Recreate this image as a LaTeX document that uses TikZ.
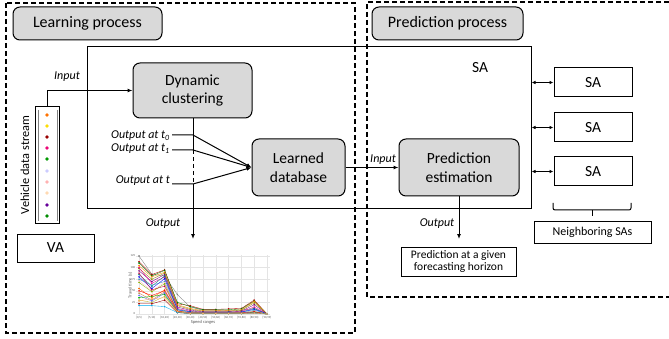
\documentclass[tikz,border=0pt]{standalone}
\usepackage{fontspec}
\setmainfont{Carlito}
\usetikzlibrary{arrows.meta,decorations.pathreplacing}
\definecolor{boxgray}{RGB}{217,217,217}
\definecolor{gridc}{RGB}{228,228,228}
\newcommand\chartline[2]{%
  \gdef\ptlist{}%
  \foreach \v [count=\i from 0] in {#2}{\xdef\ptlist{\ptlist(\i,\v)}}%
  \edef\tmp{\noexpand\draw[#1,chartln] plot coordinates {\ptlist};}\tmp}
\begin{document}
\begin{tikzpicture}[x=1pt,y=-1pt,
  procbox/.style={draw, line width=1pt, rounded corners=7pt, fill=boxgray, align=center, inner sep=0pt, font=\fontsize{15.5}{18.5}\selectfont},
  hdrbox/.style={procbox, font=\fontsize{16}{19}\selectfont},
  plainbox/.style={draw, line width=1pt, fill=white, inner sep=0pt, align=center},
  lbl/.style={font=\fontsize{12}{14}\selectfont\itshape, inner sep=1pt},
  dashbox/.style={dash pattern=on 5pt off 3pt, line width=1.1pt},
  conn/.style={line width=1pt},
  arr/.style={conn, -{Latex[length=5pt,width=4pt]}},
  darr/.style={conn, {Latex[length=4pt,width=3.5pt]}-{Latex[length=4pt,width=3.5pt]}},
  chartln/.style={line width=0.35pt, mark=*, mark size=0.55pt},
  tinyt/.style={font=\fontsize{3}{3.5}\selectfont, text=gray!70!black, inner sep=0.5pt}
]
\useasboundingbox (0,0) rectangle (669,339);
\fill[white] (0,0) rectangle (669,339);

% dashed process regions
\draw[dashbox] (6,3) rectangle (355,333);
\draw[dashbox] (669,2) -- (367,2) -- (367,297) -- (669,297);

% headers
\node[hdrbox, minimum width=149pt, minimum height=33pt] (learnhdr) at (87.5,23.5) {Learning process};
\node[hdrbox, minimum width=151pt, minimum height=33pt] (predhdr) at (447.5,23.5) {Prediction process};

% SA big box
\node[draw, line width=1pt, minimum width=444pt, minimum height=162pt, inner sep=0pt] (sabox) at (309,128) {};
\node[font=\fontsize{15.5}{18.5}\selectfont] (salbl) at (480,68) {SA};

% process boxes
\node[procbox, minimum width=119pt, minimum height=55pt] (dyn) at (192.5,90.5) {Dynamic\\clustering};
\node[procbox, minimum width=93pt, minimum height=57pt] (ldb) at (298.5,167.5) {Learned\\database};
\node[procbox, minimum width=120pt, minimum height=57pt] (pest) at (459,167.5) {Prediction\\estimation};

% vehicle data stream
\node[draw, line width=1pt, fill=white, minimum width=24pt, minimum height=116pt, inner sep=0pt] (vds) at (47,165) {};
\draw[gray, line width=0.4pt] (37.7,110) -- (37.7,221);
\draw[gray, line width=0.4pt] (56.7,110) -- (56.7,221);
\foreach \yy/\cc in {115/{orange!90!red}, 126/{yellow!80!orange}, 137/{red!60!black}, 148/{magenta!80!red}, 159/{green!60!black}, 171/{blue!20}, 182/{red!30}, 193/{orange!30}, 205/{violet!80!blue}, 216/{green!55!black}}
  \fill[\cc] (47,\yy) circle (1.8pt);
\node[rotate=90, font=\fontsize{12.3}{14}\selectfont] (vdslbl) at (25,165) {Vehicle data stream};

% VA
\node[plainbox, minimum width=77pt, minimum height=28pt, font=\fontsize{15.5}{18.5}\selectfont] (va) at (55.5,248) {VA};

% input to dynamic clustering
\draw[arr] (vds.north) |- (dyn.west);
\node[lbl] (inlbl1) at (67,77) {Input};

% outputs at t
\coordinate (o0l) at (172,135); \coordinate (o0m) at (193,135);
\coordinate (o1l) at (172,150); \coordinate (o1m) at (193,150);
\coordinate (otl) at (172,184); \coordinate (otm) at (193,184);
\node[lbl, anchor=east] (o0lbl) at (171,135.5) {Output at t\textsubscript{0}};
\node[lbl, anchor=east] (o1lbl) at (171,149) {Output at t\textsubscript{1}};
\node[lbl, anchor=east] (otlbl) at (171,181) {Output at t};
\draw[arr] (o0l) -- (o0m) -- (ldb.west);
\draw[arr] (o1l) -- (o1m) -- (ldb.west);
\draw[arr] (otl) -- (otm) -- (ldb.west);

% dynamic clustering output (vertical)
\coordinate (dynout) at (193,239);
\draw[conn] (dyn.south -| o0m) -- (o1m);
\draw[conn, dash pattern=on 4pt off 3pt] (o1m) -- (otm);
\draw[arr] (otm) -- (dynout);
\node[lbl] (outlbl1) at (163,224) {Output};

% learned db -> prediction estimation
\draw[arr] (ldb.east) -- (pest.west);
\node[lbl] (inlbl2) at (383,159.5) {Input};

% prediction output
\coordinate (pestout) at (459,239);
\draw[arr] (pest.south) -- (pestout);
\node[lbl] (outlbl2) at (437,224) {Output};
\node[plainbox, minimum width=115pt, minimum height=29pt, font=\fontsize{11.5}{12.5}\selectfont] (pout) at (458.5,261.5) {Prediction at a given\\forecasting horizon};

% neighbouring SAs
\node[plainbox, minimum width=78pt, minimum height=29pt, font=\fontsize{15.5}{18.5}\selectfont] (sa1) at (593,82.5) {SA};
\node[plainbox, minimum width=78pt, minimum height=29pt, font=\fontsize{15.5}{18.5}\selectfont] (sa2) at (593,127.5) {SA};
\node[plainbox, minimum width=78pt, minimum height=29pt, font=\fontsize{15.5}{18.5}\selectfont] (sa3) at (593,171.5) {SA};
\draw[darr] (sabox.east |- sa1.west) -- (sa1.west);
\draw[darr] (sabox.east |- sa2.west) -- (sa2.west);
\draw[darr] (sabox.east |- sa3.west) -- (sa3.west);
\coordinate (brL) at (553,203); \coordinate (brR) at (631,203);
\coordinate (brM) at (592,210);
\draw[conn, rounded corners=2pt] (brL) -- (553,210) -- (631,210) -- (brR);
\draw[conn] (brM) -- (592,216);
\node[plainbox, minimum width=117pt, minimum height=22pt, font=\fontsize{12}{14}\selectfont] (nbr) at (592.5,232) {Neighboring SAs};

% chart
\begin{scope}[shift={(139,314)}, x=12.8pt, y=0.464pt]
  \fill[white] (-0.2,-3) rectangle (10.2,128);
  \foreach \k in {0,...,10} \draw[gridc, line width=0.3pt] (\k,-3) -- (\k,128);
  \foreach \v in {0,25,...,125} \draw[gridc, line width=0.3pt] (-0.2,\v) -- (10.2,\v);
  \foreach \v in {0,25,...,125} \node[tinyt, anchor=east] at (-0.25,\v) {\v};
  \foreach \lab [count=\k from 0] in {{[0,5)},{[5,10)},{[10,20)},{[20,30)},{[30,40)},{[40,50)},{[50,60)},{[60,70)},{[70,80)},{[80,90)},{[90,99)}}
    \node[tinyt] at (\k,-8) {\lab};
  \node[tinyt, font=\fontsize{4.5}{5}\selectfont] (xt) at (5,-17) {Speed ranges};
  \node[tinyt, font=\fontsize{4.5}{5}\selectfont, rotate=90] (yt) at (-0.68,62) {Travel time (s)};
  \chartline{gray}{125,86,82,42,15,8,8,8,8,12,0}
  \chartline{red!70!black}{113,85,95,22,18,10,10,11,12,30,0}
  \chartline{green!50!black}{110,82,94,25,16,9,9,9,11,28,0}
  \chartline{orange}{104,80,90,20,12,7,7,8,9,27,0}
  \chartline{olive}{98,75,88,18,10,6,6,6,8,24,0}
  \chartline{violet}{93,70,85,15,8,5,5,5,6,20,0}
  \chartline{magenta}{100,66,80,12,6,4,4,4,5,15,0}
  \chartline{teal}{85,60,82,10,5,4,4,4,4,12,0}
  \chartline{blue}{80,55,76,9,4,3,3,3,4,10,0}
  \chartline{cyan!70!black}{75,62,70,8,3,3,3,3,3,8,0}
  \chartline{pink}{72,50,68,7,3,2,2,2,3,6,0}
  \chartline{lime!70!black}{68,48,65,6,3,2,2,2,3,5,0}
  \chartline{purple}{88,52,60,6,2,2,2,2,2,5,0}
  \chartline{orange!80!red}{55,35,52,6,2,2,2,2,2,4,0}
  \chartline{red}{50,40,50,5,2,2,2,2,2,4,0}
  \chartline{brown}{45,30,48,5,2,2,2,2,2,3,0}
  \chartline{blue!60}{40,28,45,4,2,2,2,2,2,3,0}
  \chartline{green!70!black}{35,38,42,4,1,1,1,1,1,3,0}
  \chartline{yellow!70!black}{30,25,38,4,1,1,1,1,1,2,0}
  \chartline{red!60!black}{22,22,30,3,1,1,1,1,1,2,0}
  \chartline{cyan}{18,18,16,3,1,1,1,1,1,2,0}
  \chartline{orange!60}{28,33,35,5,1,1,1,1,1,2,0}
\end{scope}
\end{tikzpicture}
\end{document}
